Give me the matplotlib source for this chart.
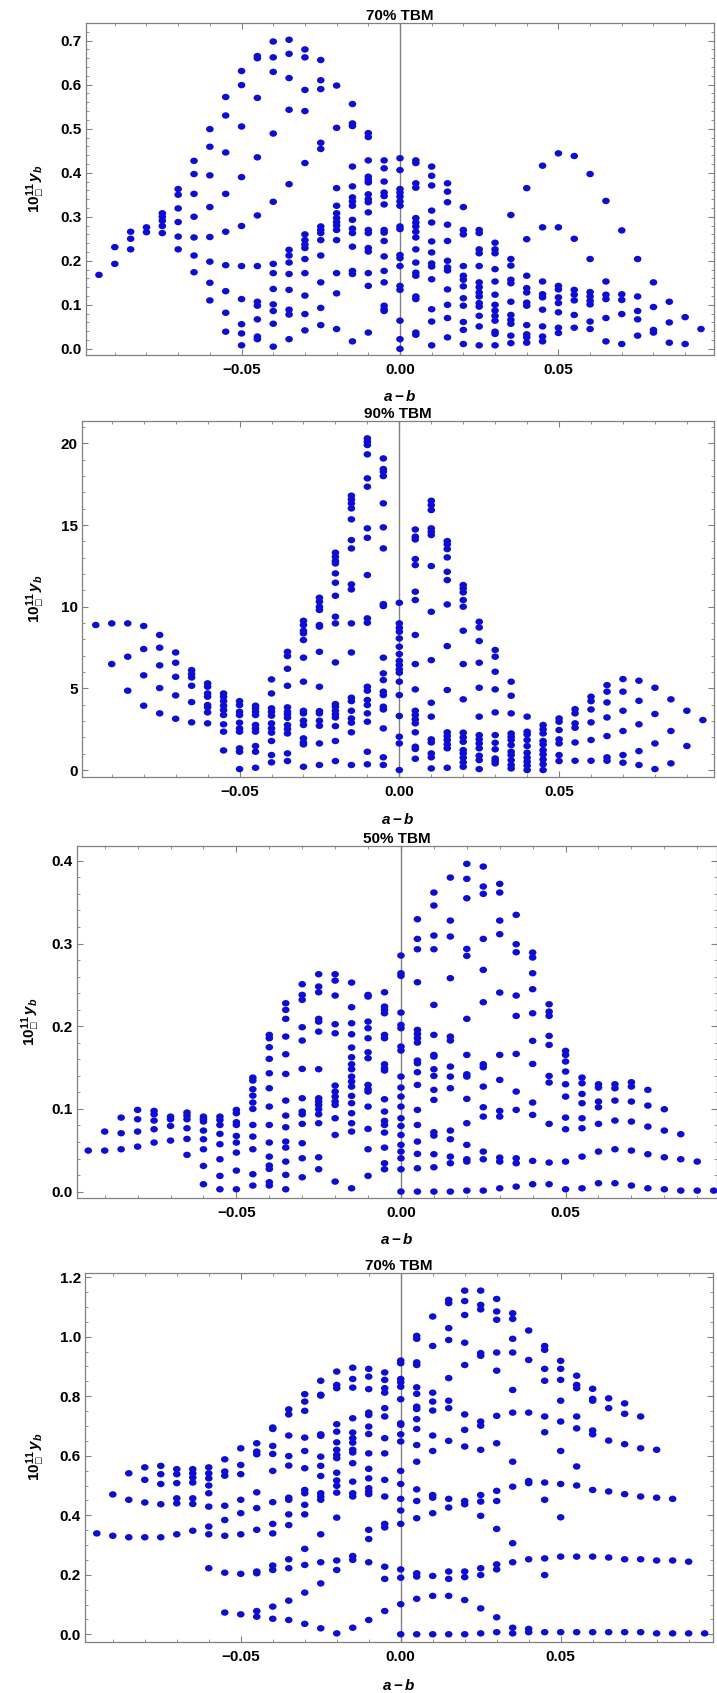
import matplotlib
matplotlib.use("Agg")
import matplotlib.pyplot as plt
from matplotlib.path import Path
from matplotlib.ticker import MultipleLocator, FixedLocator, FixedFormatter

plt.rcParams['font.family'] = ['Liberation Sans', 'DejaVu Sans']
plt.rcParams['font.weight'] = 'bold'
plt.rcParams['mathtext.fontset'] = 'custom'
plt.rcParams['mathtext.rm'] = 'Liberation Sans:bold'
plt.rcParams['mathtext.bf'] = 'Liberation Sans:bold'
plt.rcParams['mathtext.it'] = 'Liberation Sans:italic:bold'
plt.rcParams['mathtext.fallback'] = 'stixsans'

# a-b grid shared by all panels
ab = [-0.095, -0.090, -0.085, -0.080, -0.075, -0.070, -0.065, -0.060, -0.055, -0.050,
      -0.045, -0.040, -0.035, -0.030, -0.025, -0.020, -0.015, -0.010, -0.005, 0.000,
      0.005, 0.010, 0.015, 0.020, 0.025, 0.030, 0.035, 0.040, 0.045, 0.050,
      0.055, 0.060, 0.065, 0.070, 0.075, 0.080, 0.085, 0.090, 0.095]

titles = ["70% TBM", "90% TBM", "50% TBM", "70% TBM"]
xtick_vals = [-0.05, 0.0, 0.05]
xtick_labels = ["\u22120.05", "0.00", "0.05"]

# panel 1: 70% TBM
p1_y = [
    [0.168],
    [0.231, 0.193],
    [0.266, 0.250, 0.226],
    [0.276, 0.265],
    [0.308, 0.300, 0.291, 0.279, 0.263],
    [0.363, 0.350, 0.319, 0.288, 0.255, 0.226],
    [0.427, 0.397, 0.352, 0.300, 0.253, 0.212, 0.174],
    [0.499, 0.459, 0.394, 0.322, 0.254, 0.198, 0.150, 0.110],
    [0.572, 0.530, 0.446, 0.352, 0.266, 0.190, 0.131, 0.082, 0.039],
    [0.631, 0.599, 0.505, 0.390, 0.279, 0.188, 0.113, 0.056, 0.035, 0.008],
    [0.665, 0.660, 0.570, 0.435, 0.303, 0.188, 0.107, 0.098, 0.067, 0.028, 0.022],
    [0.698, 0.662, 0.629, 0.489, 0.334, 0.193, 0.172, 0.136, 0.101, 0.086, 0.057, 0.005],
    [0.702, 0.670, 0.615, 0.543, 0.374, 0.225, 0.212, 0.196, 0.170, 0.134, 0.089, 0.078, 0.022],
    [0.680, 0.662, 0.588, 0.540, 0.422, 0.260, 0.247, 0.237, 0.229, 0.204, 0.172, 0.121, 0.079, 0.042],
    [0.656, 0.610, 0.590, 0.468, 0.454, 0.278, 0.270, 0.263, 0.247, 0.212, 0.151, 0.093, 0.054],
    [0.598, 0.502, 0.365, 0.325, 0.308, 0.297, 0.288, 0.280, 0.270, 0.247, 0.172, 0.126, 0.045],
    [0.556, 0.512, 0.506, 0.414, 0.369, 0.344, 0.335, 0.325, 0.293, 0.273, 0.263, 0.232, 0.177, 0.170, 0.017],
    [0.490, 0.481, 0.428, 0.391, 0.384, 0.378, 0.351, 0.340, 0.333, 0.310, 0.270, 0.263, 0.229, 0.221, 0.172, 0.143, 0.037],
    [0.428, 0.410, 0.380, 0.355, 0.347, 0.328, 0.270, 0.264, 0.245, 0.210, 0.177, 0.151, 0.098, 0.090, 0.086],
    [0.433, 0.406, 0.363, 0.355, 0.346, 0.335, 0.325, 0.278, 0.272, 0.213, 0.206, 0.188, 0.143, 0.134, 0.064, 0.022, 0.000],
    [0.428, 0.422, 0.376, 0.366, 0.297, 0.287, 0.278, 0.266, 0.253, 0.226, 0.196, 0.173, 0.166, 0.119, 0.113, 0.037, 0.032],
    [0.414, 0.393, 0.371, 0.314, 0.287, 0.244, 0.219, 0.194, 0.187, 0.158, 0.090, 0.062, 0.008],
    [0.376, 0.357, 0.333, 0.282, 0.245, 0.200, 0.185, 0.178, 0.135, 0.100, 0.070, 0.026],
    [0.322, 0.270, 0.260, 0.188, 0.166, 0.157, 0.142, 0.115, 0.098, 0.061, 0.043, 0.011],
    [0.270, 0.263, 0.226, 0.217, 0.188, 0.151, 0.140, 0.128, 0.119, 0.104, 0.096, 0.075, 0.051, 0.008],
    [0.241, 0.226, 0.217, 0.181, 0.153, 0.123, 0.100, 0.087, 0.075, 0.064, 0.039, 0.034, 0.008],
    [0.304, 0.204, 0.189, 0.157, 0.149, 0.107, 0.077, 0.066, 0.057, 0.030, 0.013],
    [0.365, 0.249, 0.166, 0.138, 0.128, 0.105, 0.098, 0.054, 0.033, 0.026, 0.014],
    [0.416, 0.276, 0.153, 0.124, 0.117, 0.089, 0.051, 0.028, 0.017],
    [0.444, 0.276, 0.143, 0.135, 0.117, 0.104, 0.083, 0.048, 0.036],
    [0.438, 0.250, 0.134, 0.123, 0.110, 0.077, 0.048],
    [0.397, 0.204, 0.129, 0.119, 0.109, 0.101, 0.062, 0.045],
    [0.336, 0.153, 0.123, 0.113, 0.070, 0.017],
    [0.269, 0.124, 0.111, 0.079, 0.011],
    [0.204, 0.119, 0.086, 0.067, 0.030],
    [0.151, 0.095, 0.043, 0.037],
    [0.107, 0.060, 0.014],
    [0.072, 0.011],
    [0.045],
]

# panel 2: 90% TBM
p2_y = [
    [8.88],
    [8.98, 6.49],
    [8.98, 6.94, 4.86],
    [8.82, 7.41, 5.80, 3.94],
    [8.27, 7.49, 6.41, 5.02, 3.47],
    [7.20, 6.57, 5.71, 4.57, 3.14],
    [6.12, 5.88, 5.67, 5.16, 4.16, 2.92],
    [5.31, 5.10, 4.69, 4.49, 3.98, 3.84, 3.53, 2.86],
    [4.69, 4.49, 4.22, 3.94, 3.67, 3.37, 2.80, 2.35, 1.20],
    [4.22, 3.98, 3.57, 3.37, 2.90, 2.55, 2.35, 1.33, 1.12, 0.06],
    [3.94, 3.78, 3.57, 3.37, 2.76, 2.55, 2.35, 1.47, 1.12, 0.14],
    [5.55, 4.69, 3.78, 3.57, 3.33, 2.86, 2.55, 2.29, 1.78, 0.92, 0.47],
    [7.24, 6.98, 6.20, 5.16, 3.84, 3.57, 3.41, 3.20, 2.76, 2.51, 2.24, 1.02, 0.55],
    [9.14, 8.88, 8.53, 8.37, 7.96, 6.88, 5.41, 3.63, 3.47, 3.02, 2.76, 1.94, 1.69, 1.57, 0.20],
    [10.55, 10.31, 10.00, 9.80, 8.88, 8.78, 7.24, 5.10, 3.61, 3.47, 3.02, 2.71, 1.63, 0.31],
    [13.31, 13.06, 12.80, 12.65, 12.04, 11.47, 10.67, 9.39, 8.98, 6.59, 4.04, 3.88, 3.63, 3.41, 3.22, 2.69, 1.78, 0.55],
    [16.80, 16.57, 16.33, 16.02, 15.35, 14.08, 13.57, 11.37, 11.06, 8.98, 7.20, 4.43, 4.22, 3.63, 3.16, 2.90, 2.31, 0.31],
    [20.31, 20.10, 19.90, 19.33, 17.86, 17.35, 14.80, 14.22, 11.94, 9.29, 9.02, 5.10, 4.86, 4.29, 3.98, 3.47, 2.96, 1.12, 0.35],
    [19.08, 18.43, 18.27, 18.00, 16.33, 14.86, 13.57, 10.16, 10.04, 6.88, 5.92, 5.51, 4.80, 4.59, 3.88, 3.71, 2.55, 0.78, 0.31],
    [10.24, 8.98, 8.71, 8.47, 8.06, 7.55, 7.10, 6.69, 6.43, 6.16, 5.96, 5.41, 4.59, 3.31, 2.04, 1.63, 0.00],
    [14.73, 14.29, 14.12, 12.92, 12.55, 10.92, 10.41, 8.27, 6.49, 4.94, 3.63, 3.37, 3.10, 2.86, 2.31, 1.43, 1.29, 0.69],
    [16.49, 16.22, 15.92, 14.80, 14.59, 14.39, 12.49, 9.69, 6.73, 4.12, 3.27, 1.88, 1.69, 1.02, 0.78, 0.10],
    [14.02, 13.82, 13.53, 13.02, 12.14, 11.63, 10.14, 7.59, 4.90, 2.31, 2.08, 1.84, 1.57, 1.33, 0.14],
    [11.33, 11.12, 10.88, 10.41, 10.00, 8.53, 6.49, 4.33, 2.29, 2.00, 1.73, 1.22, 1.02, 0.76, 0.47, 0.20],
    [9.08, 8.73, 7.90, 6.57, 5.04, 3.27, 2.14, 1.88, 1.63, 1.33, 0.88, 0.61, 0.06],
    [7.35, 6.94, 6.02, 4.94, 3.53, 2.14, 1.67, 1.27, 0.71, 0.57, 0.41],
    [5.41, 4.55, 3.47, 2.24, 2.04, 1.84, 1.53, 1.12, 0.92, 0.61, 0.31, 0.10],
    [3.27, 2.35, 2.18, 1.84, 1.47, 1.06, 0.76, 0.51, 0.27, 0.00],
    [2.76, 2.49, 2.24, 1.78, 1.57, 1.22, 0.96, 0.65, 0.35, 0.00],
    [3.16, 2.96, 2.45, 1.88, 1.63, 0.92, 0.55],
    [3.73, 3.47, 2.86, 2.59, 1.69, 0.57],
    [4.49, 4.22, 3.71, 2.92, 1.84, 0.57],
    [5.20, 4.80, 4.14, 3.22, 2.08, 0.78, 0.57],
    [5.57, 4.80, 3.63, 2.39, 0.92, 0.45],
    [5.47, 4.24, 2.80, 1.16, 0.31],
    [5.04, 3.43, 1.63, 0.06],
    [4.33, 2.39, 0.41],
    [3.63, 1.47],
    [3.06],
]

# panel 3: 50% TBM
p3_y = [
    [0.0496],
    [0.0726, 0.0496],
    [0.0895, 0.0706, 0.0512],
    [0.0988, 0.0875, 0.0726, 0.0544],
    [0.0976, 0.0935, 0.0859, 0.0754, 0.0593],
    [0.0907, 0.0875, 0.0794, 0.0617],
    [0.0956, 0.0919, 0.0875, 0.0766, 0.0637, 0.0444],
    [0.0907, 0.0875, 0.0847, 0.0738, 0.0633, 0.0512, 0.0310, 0.0089],
    [0.0907, 0.0867, 0.0806, 0.0698, 0.0573, 0.0391, 0.0190, 0.0028],
    [0.0988, 0.0948, 0.0839, 0.0806, 0.0673, 0.0593, 0.0472, 0.0254, 0.0028],
    [0.1379, 0.1343, 0.1238, 0.1161, 0.1077, 0.1000, 0.0806, 0.0665, 0.0512, 0.0210, 0.0073],
    [0.1895, 0.1855, 0.1746, 0.1605, 0.1431, 0.1250, 0.1028, 0.0806, 0.0593, 0.0423, 0.0315, 0.0274, 0.0113, 0.0073],
    [0.2278, 0.2198, 0.2089, 0.1875, 0.1661, 0.1423, 0.1101, 0.0919, 0.0778, 0.0605, 0.0532, 0.0363, 0.0202, 0.0028],
    [0.2508, 0.2379, 0.2319, 0.1988, 0.1827, 0.1484, 0.1129, 0.0968, 0.0935, 0.0819, 0.0585, 0.0403, 0.0173],
    [0.2629, 0.2480, 0.2411, 0.2089, 0.2056, 0.1935, 0.1480, 0.1129, 0.1089, 0.1048, 0.0996, 0.0935, 0.0827, 0.0415, 0.0270],
    [0.2629, 0.2552, 0.2371, 0.2024, 0.1915, 0.1282, 0.1210, 0.1149, 0.1089, 0.1048, 0.0887, 0.0685, 0.0121],
    [0.2528, 0.2230, 0.2036, 0.1903, 0.1742, 0.1625, 0.1540, 0.1480, 0.1391, 0.1331, 0.1270, 0.1157, 0.1069, 0.0948, 0.0827, 0.0726, 0.0040],
    [0.2379, 0.2359, 0.2056, 0.1976, 0.1855, 0.1685, 0.1613, 0.1290, 0.1238, 0.1210, 0.1028, 0.0758, 0.0512, 0.0190],
    [0.2411, 0.2238, 0.2198, 0.2157, 0.1895, 0.1855, 0.1540, 0.1492, 0.1464, 0.1117, 0.0968, 0.0855, 0.0806, 0.0714, 0.0532, 0.0343, 0.0270],
    [0.2855, 0.2641, 0.2609, 0.2165, 0.2016, 0.1976, 0.1754, 0.1706, 0.1391, 0.1258, 0.1149, 0.1028, 0.0887, 0.0794, 0.0685, 0.0565, 0.0484, 0.0403, 0.0270, 0.0000],
    [0.3294, 0.3056, 0.2931, 0.2532, 0.1956, 0.1907, 0.1855, 0.1802, 0.1585, 0.1552, 0.1444, 0.1290, 0.0988, 0.0806, 0.0605, 0.0456, 0.0282, 0.0000],
    [0.3617, 0.3460, 0.3097, 0.2931, 0.2258, 0.1895, 0.1653, 0.1633, 0.1480, 0.1399, 0.1230, 0.1109, 0.0718, 0.0677, 0.0452, 0.0294, 0.0000],
    [0.3798, 0.3278, 0.3085, 0.2581, 0.1875, 0.1827, 0.1512, 0.1391, 0.1250, 0.0738, 0.0633, 0.0423, 0.0343, 0.0000],
    [0.3964, 0.3782, 0.3548, 0.2935, 0.2851, 0.2089, 0.1653, 0.1419, 0.1391, 0.1121, 0.0827, 0.0565, 0.0391, 0.0363, 0.0012],
    [0.3931, 0.3690, 0.3601, 0.3056, 0.2681, 0.2290, 0.1540, 0.1504, 0.1270, 0.1020, 0.0907, 0.0484, 0.0391, 0.0012],
    [0.3722, 0.3617, 0.3278, 0.3113, 0.2407, 0.1653, 0.1351, 0.0976, 0.0907, 0.0411, 0.0363, 0.0040],
    [0.3347, 0.2992, 0.2895, 0.2371, 0.2125, 0.1665, 0.1210, 0.0988, 0.0403, 0.0343, 0.0060],
    [0.2891, 0.2831, 0.2641, 0.2448, 0.2157, 0.1823, 0.1544, 0.1077, 0.0927, 0.0371, 0.0089],
    [0.2266, 0.2177, 0.2125, 0.1883, 0.1774, 0.1399, 0.1319, 0.0819, 0.0351, 0.0089],
    [0.1702, 0.1653, 0.1573, 0.1452, 0.1298, 0.1149, 0.0895, 0.0754, 0.0363, 0.0028],
    [0.1379, 0.1310, 0.1181, 0.1069, 0.0887, 0.0766, 0.0423, 0.0040],
    [0.1298, 0.1258, 0.1089, 0.1020, 0.0819, 0.0484, 0.0101],
    [0.1298, 0.1250, 0.1101, 0.0859, 0.0512, 0.0101],
    [0.1323, 0.1270, 0.1089, 0.0847, 0.0496, 0.0073],
    [0.1230, 0.1040, 0.0786, 0.0452, 0.0040],
    [0.0996, 0.0738, 0.0415, 0.0028],
    [0.0694, 0.0391, 0.0012],
    [0.0363, 0.0012],
    [0.0012],
]

# panel 4: 70% TBM
p4_y = [
    [0.339],
    [0.470, 0.331],
    [0.541, 0.452, 0.326],
    [0.561, 0.519, 0.443, 0.326],
    [0.566, 0.538, 0.505, 0.437, 0.326],
    [0.555, 0.538, 0.508, 0.457, 0.440, 0.336],
    [0.555, 0.541, 0.527, 0.510, 0.457, 0.438, 0.348],
    [0.561, 0.541, 0.524, 0.500, 0.474, 0.429, 0.362, 0.336, 0.222],
    [0.588, 0.547, 0.533, 0.432, 0.384, 0.331, 0.207, 0.073],
    [0.625, 0.569, 0.538, 0.452, 0.407, 0.336, 0.203, 0.067],
    [0.642, 0.614, 0.605, 0.477, 0.424, 0.351, 0.211, 0.205, 0.078, 0.059],
    [0.695, 0.690, 0.633, 0.606, 0.549, 0.444, 0.371, 0.339, 0.231, 0.216, 0.093, 0.052],
    [0.756, 0.739, 0.668, 0.599, 0.567, 0.459, 0.452, 0.403, 0.367, 0.252, 0.222, 0.113, 0.048],
    [0.807, 0.782, 0.751, 0.661, 0.616, 0.558, 0.485, 0.474, 0.435, 0.403, 0.287, 0.233, 0.140, 0.035],
    [0.852, 0.805, 0.802, 0.672, 0.667, 0.597, 0.566, 0.532, 0.474, 0.463, 0.452, 0.336, 0.242, 0.171, 0.020],
    [0.883, 0.838, 0.827, 0.706, 0.681, 0.645, 0.620, 0.603, 0.592, 0.543, 0.517, 0.499, 0.476, 0.392, 0.248, 0.216, 0.003],
    [0.896, 0.858, 0.829, 0.726, 0.678, 0.659, 0.644, 0.620, 0.611, 0.575, 0.513, 0.474, 0.463, 0.263, 0.250, 0.022],
    [0.892, 0.866, 0.824, 0.745, 0.737, 0.698, 0.673, 0.608, 0.556, 0.524, 0.491, 0.480, 0.471, 0.351, 0.320, 0.242, 0.048],
    [0.880, 0.855, 0.827, 0.812, 0.760, 0.732, 0.659, 0.608, 0.519, 0.463, 0.371, 0.359, 0.227, 0.186, 0.078],
    [0.920, 0.911, 0.858, 0.847, 0.832, 0.790, 0.709, 0.704, 0.672, 0.648, 0.549, 0.505, 0.455, 0.416, 0.371, 0.218, 0.190, 0.101, 0.000],
    [1.003, 0.993, 0.914, 0.905, 0.830, 0.808, 0.765, 0.757, 0.723, 0.690, 0.636, 0.580, 0.487, 0.448, 0.390, 0.205, 0.194, 0.119, 0.000],
    [1.068, 0.969, 0.812, 0.782, 0.752, 0.668, 0.616, 0.468, 0.459, 0.407, 0.196, 0.129, 0.000],
    [1.124, 1.113, 1.029, 0.989, 0.861, 0.785, 0.760, 0.650, 0.455, 0.426, 0.211, 0.186, 0.129, 0.000],
    [1.155, 1.120, 1.073, 0.980, 0.905, 0.739, 0.687, 0.631, 0.448, 0.437, 0.211, 0.192, 0.115, 0.000],
    [1.155, 1.107, 1.092, 0.945, 0.936, 0.715, 0.701, 0.620, 0.468, 0.446, 0.398, 0.222, 0.199, 0.087, 0.003],
    [1.127, 1.085, 1.057, 0.947, 0.886, 0.734, 0.642, 0.482, 0.448, 0.354, 0.235, 0.218, 0.057, 0.007],
    [1.079, 1.060, 0.993, 0.947, 0.821, 0.745, 0.580, 0.496, 0.306, 0.242, 0.022, 0.003],
    [1.021, 0.922, 0.745, 0.515, 0.508, 0.252, 0.018, 0.007],
    [0.969, 0.956, 0.892, 0.852, 0.732, 0.679, 0.510, 0.452, 0.255, 0.199, 0.007],
    [0.919, 0.892, 0.855, 0.785, 0.715, 0.616, 0.505, 0.393, 0.261, 0.007],
    [0.869, 0.838, 0.827, 0.732, 0.692, 0.564, 0.500, 0.261, 0.007],
    [0.825, 0.791, 0.785, 0.685, 0.672, 0.485, 0.261, 0.007],
    [0.793, 0.760, 0.651, 0.480, 0.258, 0.007],
    [0.776, 0.741, 0.639, 0.471, 0.252, 0.007],
    [0.732, 0.625, 0.463, 0.252, 0.007],
    [0.620, 0.459, 0.248, 0.003],
    [0.455, 0.248, 0.003],
    [0.244, 0.003],
    [0.003],
]

panels_y = [p1_y, p2_y, p3_y, p4_y]

# layout (figure fractions) and axis ranges
rects = [[0.1199, 0.7903, 0.8759, 0.1961],
         [0.1144, 0.5412, 0.8815, 0.2103],
         [0.1070, 0.2926, 0.8930, 0.2077],
         [0.1185, 0.0303, 0.8763, 0.2180]]
xlims = [(-0.0991, 0.0991), (-0.0993, 0.0985), (-0.0985, 0.0960), (-0.0987, 0.0977)]
ylims = [(-0.014, 0.740), (-0.41, 21.39), (-0.0073, 0.418), (-0.025, 1.2155)]
ymajor = [0.1, 5, 0.1, 0.2]
yminor = [0.02, 1, 0.02, 0.05]
yfmt = ["%.1f", "%d", "%.1f", "%.1f"]
ylab_x = [-0.062, -0.055, -0.054, -0.060]
xlab_y = [-0.103, -0.098, -0.099, -0.097]

circ = Path.unit_circle()
dot = Path(circ.vertices * [1.0, 0.85], circ.codes)

fig = plt.figure(figsize=(7.17, 16.93), dpi=100)
fig.patch.set_facecolor('white')

for i in range(4):
    ax = fig.add_axes(rects[i])
    xs = []
    ys = []
    for x, col in zip(ab, panels_y[i]):
        for v in col:
            xs.append(x)
            ys.append(v)
    ax.axvline(0, color='#808080', lw=1.0, zorder=1)
    ax.scatter(xs, ys, s=30, marker=dot, color='#0e0ed2', edgecolors='none', zorder=3, clip_on=False)
    ax.set_xlim(xlims[i])
    ax.set_ylim(ylims[i])
    ax.xaxis.set_major_locator(FixedLocator(xtick_vals))
    ax.xaxis.set_major_formatter(FixedFormatter(xtick_labels))
    ax.xaxis.set_minor_locator(MultipleLocator(0.01))
    ax.yaxis.set_major_locator(MultipleLocator(ymajor[i]))
    ax.yaxis.set_minor_locator(MultipleLocator(yminor[i]))
    ax.yaxis.set_major_formatter(plt.FormatStrFormatter(yfmt[i]))
    ax.tick_params(which='both', direction='in', top=True, right=True, color='#808080')
    ax.tick_params(which='major', length=4, width=0.8)
    ax.tick_params(which='minor', length=2.2, width=0.6)
    ax.tick_params(axis='x', pad=6, labelsize=11)
    ax.tick_params(axis='y', pad=3, labelsize=11)
    for sp in ax.spines.values():
        sp.set_color('#808080')
        sp.set_linewidth(0.9)
    ax.set_title(titles[i], fontsize=11, fontweight='bold', pad=2)
    ax.set_xlabel(r'$a-b$', fontsize=11)
    ax.xaxis.set_label_coords(0.5, xlab_y[i])
    ax.set_ylabel('$10^{11}_{\u25a1}\\,y_b$', fontsize=11)
    ax.yaxis.set_label_coords(ylab_x[i], 0.5)

fig.savefig('out.png', dpi=100, facecolor='white')
